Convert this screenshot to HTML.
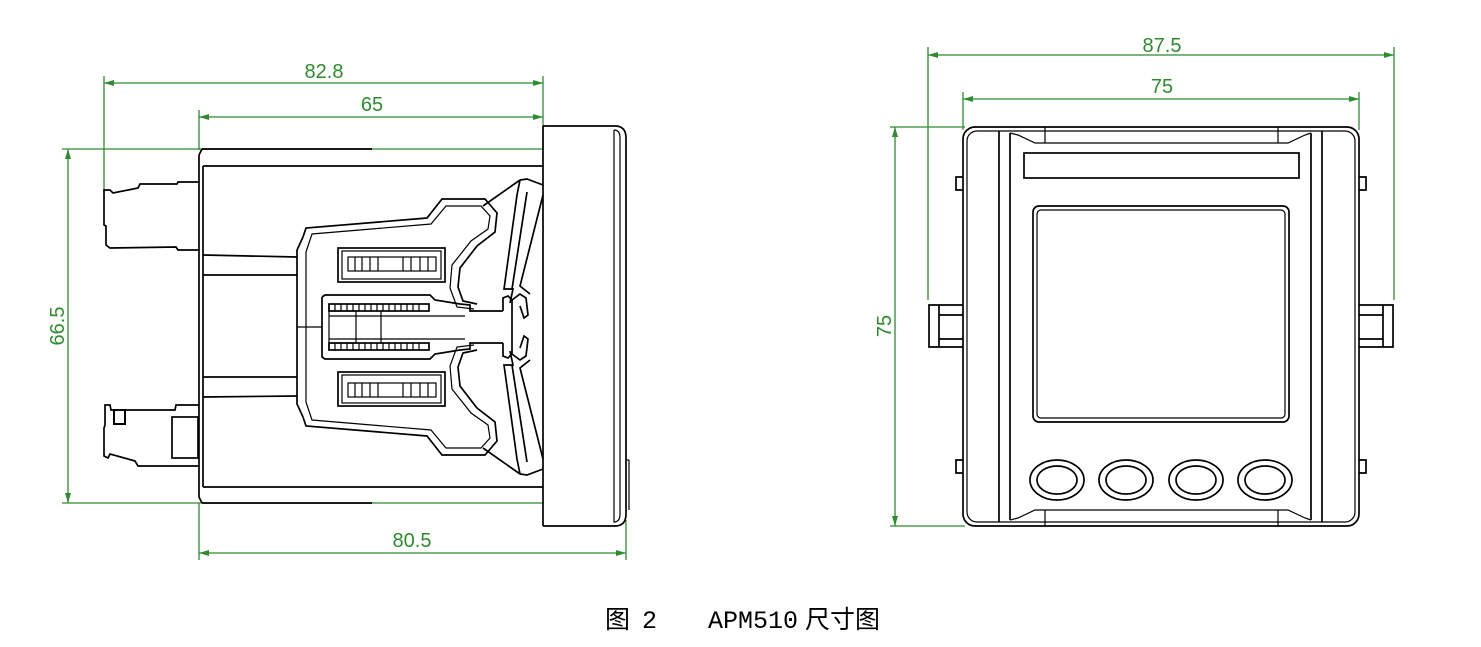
<!DOCTYPE html>
<html><head><meta charset="utf-8"><style>
html,body{margin:0;padding:0;background:#fff;}
svg{display:block}
.k{fill:none;stroke:#000;stroke-width:1.7}
.t{fill:none;stroke:#000;stroke-width:1.2}
.g{fill:none;stroke:#2e8b2e;stroke-width:1.3}
.gt{fill:#2e8b2e;font-family:"Liberation Sans",sans-serif;font-size:20px}
</style></head><body>
<svg width="1481" height="647" viewBox="0 0 1481 647" xmlns="http://www.w3.org/2000/svg">
<defs>
<marker id="a" viewBox="0 0 10 6" refX="10" refY="3" markerWidth="10" markerHeight="6" orient="auto-start-reverse" markerUnits="userSpaceOnUse">
<path d="M0,0 L10,3 L0,6 z" fill="#2e8b2e"/></marker>
</defs>

<!-- LEFT: dimensions -->
<line class="g" x1="104" y1="83" x2="543" y2="83" marker-start="url(#a)" marker-end="url(#a)"/>
<text class="gt" x="324" y="78" text-anchor="middle">82.8</text>
<line class="g" x1="199" y1="117" x2="543" y2="117" marker-start="url(#a)" marker-end="url(#a)"/>
<text class="gt" x="372" y="111" text-anchor="middle">65</text>
<line class="g" x1="104" y1="76" x2="104" y2="192"/>
<line class="g" x1="199" y1="110" x2="199" y2="150"/>
<line class="g" x1="543" y1="76" x2="543" y2="150"/>
<line class="g" x1="68" y1="149" x2="68" y2="503" marker-start="url(#a)" marker-end="url(#a)"/>
<line class="g" x1="62" y1="149" x2="543" y2="149"/>
<line class="g" x1="62" y1="503" x2="543" y2="503"/>
<text class="gt" x="0" y="0" text-anchor="middle" transform="translate(64 326) rotate(-90)">66.5</text>
<line class="g" x1="199" y1="503" x2="199" y2="560"/>
<line class="g" x1="626" y1="520" x2="626" y2="560"/>
<line class="g" x1="199" y1="553" x2="626" y2="553" marker-start="url(#a)" marker-end="url(#a)"/>
<text class="gt" x="412" y="547" text-anchor="middle">80.5</text>

<!-- LEFT: body -->
<line class="k" x1="202" y1="149" x2="372" y2="149"/>
<line class="k" x1="203" y1="166" x2="543" y2="166"/>
<line class="k" x1="203" y1="487" x2="543" y2="487"/>
<line class="k" x1="202" y1="503" x2="372" y2="503"/>
<path class="k" d="M199,155 L202,149 M199,155 L199,497 L202,503"/>
<line class="k" x1="203" y1="166" x2="203" y2="487"/>
<line class="k" x1="543" y1="126" x2="543" y2="526"/>
<path class="k" d="M543,126 L615,126 Q626,126 626,138 L626,514 Q626,526 615,526 L543,526"/>
<path class="t" d="M614,130 Q620,130 620,138 L620,514 Q620,522 614,522 L614,130"/>
<line class="t" x1="626" y1="460" x2="629" y2="460"/><line class="t" x1="629" y1="460" x2="629" y2="510"/>
<path class="k" d="M203,255 L297,257 M203,275 L297,275 M203,377 L297,377 M203,397 L297,396"/>
<path class="k" d="M199,182 L178,182 L177,184 L140,184 L138,188 L113,193 L110,190 L104,190 L104,225 L106,226 L106,245 L110,248 L176,247 L178,250 L199,250"/>
<path class="k" d="M199,405 L176,405 L175,410 L111,410 L110,405 L105,405 L105,425 L104,428 L104,456 L108,458 L110,454 L135,461 L138,466 L199,466"/>
<rect class="k" x="172" y="417" width="26" height="41"/>
<rect x="114" y="410" width="11" height="14" fill="none" stroke="#000" stroke-width="2"/>
<path class="k" d="M303,237 L306,228 L427,218 L442,199 L485,199 L497,213 L495,232 L477,246 L460,268 L458,287 L463,301 L477,304"/>
<path class="t" d="M310,240 L312,234 L431,224 L446,206 L481,206 L490,216 L488,229 L471,241 L452,265 L450,288 L457,307 L474,309"/>
<path class="k" d="M303,417 L306,426 L427,436 L442,455 L485,455 L497,441 L495,422 L477,408 L460,386 L458,367 L463,353 L477,350"/>
<path class="t" d="M310,414 L312,420 L431,430 L446,448 L481,448 L490,438 L488,425 L471,413 L452,389 L450,366 L457,347 L474,345"/>
<path class="k" d="M303,237 L297,250 L297,404 L303,417"/>
<path class="t" d="M310,240 L306,252 L306,402 L310,414"/>
<line class="t" x1="297" y1="327" x2="322" y2="327"/>
<rect class="k" x="338" y="248" width="107" height="34"/>
<rect class="t" x="342" y="251" width="99" height="28"/>
<rect class="t" x="348" y="257" width="88" height="14"/>
<path class="t" d="M355,257 v14 M362,257 v14 M370,257 v14 M378,257 v14 M403,257 v14 M411,257 v14 M420,257 v14 M428,257 v14"/>
<rect class="k" x="338" y="372" width="107" height="34"/>
<rect class="t" x="342" y="375" width="99" height="28"/>
<rect class="t" x="348" y="383" width="88" height="14"/>
<path class="t" d="M355,383 v14 M362,383 v14 M370,383 v14 M378,383 v14 M403,383 v14 M411,383 v14 M420,383 v14 M428,383 v14"/>
<path class="k" d="M322,297 L325,295 L430,295 L435,300 L460,304 L470,305 L470,311 L503,311 M322,297 L322,357 L325,359 L430,359 L435,354 L460,350 L470,349 L470,343 L503,343"/>
<rect class="k" x="329" y="304" width="100" height="7"/>
<rect class="k" x="329" y="343" width="100" height="7"/>
<path class="t" d="M329,304 v7 M335,304 v7 M341,304 v7 M347,304 v7 M353,304 v7 M359,304 v7 M365,304 v7 M371,304 v7 M377,304 v7 M383,304 v7 M389,304 v7 M395,304 v7 M401,304 v7 M407,304 v7 M413,304 v7 M419,304 v7 M329,343 v7 M335,343 v7 M341,343 v7 M347,343 v7 M353,343 v7 M359,343 v7 M365,343 v7 M371,343 v7 M377,343 v7 M383,343 v7 M389,343 v7 M395,343 v7 M401,343 v7 M407,343 v7 M413,343 v7 M419,343 v7"/>
<rect class="t" x="329" y="311" width="27" height="32"/>
<line class="t" x1="381" y1="311" x2="381" y2="343"/>
<line class="t" x1="329" y1="316" x2="465" y2="316"/>
<line class="t" x1="329" y1="339" x2="465" y2="339"/>
<path class="k" d="M503,311 L503,298 L508,296 L512,300 L512,354 L508,358 L503,356 L503,343"/>
<path class="k" d="M512,300 L520,294 L526,298 L528,315 L524,318 L520,306 M512,354 L520,360 L526,356 L528,339 L524,336 L520,348"/>
<path class="k" d="M520,180 L527,179 L543,185 M520,180 L517,195 L504,289 L513,289 L510,303 M527,192 L512,289"/>
<path class="k" d="M543,195 L520,286 L530,294"/>
<path class="k" d="M520,474 L527,475 L543,469 M520,474 L517,459 L504,365 L513,365 L510,351 M527,462 L512,365"/>
<path class="k" d="M543,459 L520,368 L530,360"/>
<path class="k" d="M483,448 L520,474 M483,206 L520,180"/>

<!-- RIGHT: dimensions -->
<line class="g" x1="928" y1="55" x2="1394" y2="55" marker-start="url(#a)" marker-end="url(#a)"/>
<text class="gt" x="1162" y="52" text-anchor="middle">87.5</text>
<line class="g" x1="963" y1="99" x2="1359" y2="99" marker-start="url(#a)" marker-end="url(#a)"/>
<text class="gt" x="1162" y="93" text-anchor="middle">75</text>
<line class="g" x1="928" y1="47" x2="928" y2="300"/>
<line class="g" x1="1394" y1="47" x2="1394" y2="300"/>
<line class="g" x1="963" y1="92" x2="963" y2="130"/>
<line class="g" x1="1359" y1="92" x2="1359" y2="130"/>
<line class="g" x1="895" y1="127" x2="895" y2="526" marker-start="url(#a)" marker-end="url(#a)"/>
<line class="g" x1="890" y1="127" x2="965" y2="127"/>
<line class="g" x1="890" y1="526" x2="965" y2="526"/>
<text class="gt" x="0" y="0" text-anchor="middle" transform="translate(891 326) rotate(-90)">75</text>

<!-- RIGHT: body -->
<rect class="k" x="963" y="127" width="396" height="399" rx="12"/>
<rect class="t" x="967" y="131" width="388" height="391" rx="10"/>
<path class="k" d="M999,131 L999,522 M1010,133 L1010,520 M1311,133 L1311,520 M1322,131 L1322,522"/>
<path class="t" d="M1010,133 L1018,135 L1035,143 L1288,143 L1305,135 L1311,133"/>
<path class="t" d="M1010,520 L1018,518 L1035,510 L1288,510 L1305,518 L1311,520"/>
<path class="t" d="M1045,127 L1045,143 M1278,127 L1278,143 M1045,510 L1045,526 M1278,510 L1278,526"/>
<rect class="k" x="1024" y="153" width="275" height="25"/>
<rect class="k" x="1033" y="206" width="256" height="216" rx="6"/>
<rect class="t" x="1037" y="210" width="248" height="208" rx="4"/>
<g class="k">
<ellipse cx="1057" cy="480" rx="27" ry="20"/><ellipse cx="1057" cy="480" rx="20" ry="14"/>
<ellipse cx="1126" cy="480" rx="27" ry="20"/><ellipse cx="1126" cy="480" rx="20" ry="14"/>
<ellipse cx="1196" cy="480" rx="27" ry="20"/><ellipse cx="1196" cy="480" rx="20" ry="14"/>
<ellipse cx="1265" cy="480" rx="27" ry="20"/><ellipse cx="1265" cy="480" rx="20" ry="14"/>
</g>
<path class="k" d="M963,305 L929,305 L929,347 L963,347 M939,305 L939,347 M939,315 L963,315 M939,339 L963,339"/>
<path class="k" d="M1359,305 L1393,305 L1393,347 L1359,347 M1383,305 L1383,347 M1359,315 L1383,315 M1359,339 L1383,339"/>
<path class="k" d="M963,177 L956,177 L956,190 L963,190 M963,460 L956,460 L956,473 L963,473"/>
<path class="k" d="M1359,177 L1366,177 L1366,190 L1359,190 M1359,460 L1366,460 L1366,473 L1359,473"/>

<g font-size="25" fill="#000">
<text x="605" y="628" font-family="'Noto Sans CJK SC',sans-serif">图</text>
<text x="642" y="628" font-family="'Liberation Mono',monospace">2</text>
<text x="708" y="628" font-family="'Liberation Mono',monospace">APM510</text>
<text x="805" y="628" font-family="'Noto Sans CJK SC',sans-serif">尺寸图</text>
</g>
</svg>
</body></html>
